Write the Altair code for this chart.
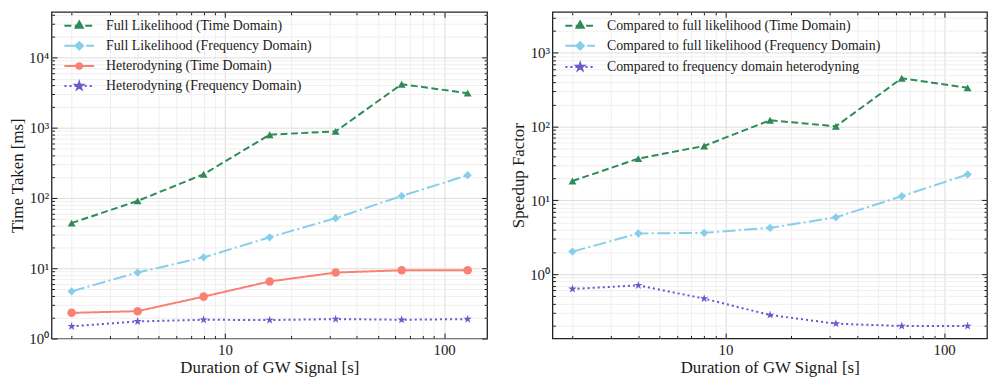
import math
import altair as alt
import pandas as pd

# ---------------- data ----------------
durations = [2, 4, 8, 16, 32, 64, 128]

left_names = [
    "Full Likelihood (Time Domain)",
    "Full Likelihood (Frequency Domain)",
    "Heterodyning (Time Domain)",
    "Heterodyning (Frequency Domain)",
]
full_td = [44, 91, 218, 797, 888, 4170, 3110]
full_fd = [4.69, 8.7, 14.3, 27.6, 51.7, 107, 211]
het_td = [2.32, 2.45, 3.95, 6.49, 8.69, 9.37, 9.37]
het_fd = [1.49, 1.75, 1.85, 1.83, 1.89, 1.85, 1.89]

right_names = [
    "Compared to full likelihood (Time Domain)",
    "Compared to full likelihood (Frequency Domain)",
    "Compared to frequency domain heterodyning",
]
speed_td = [18.3, 36.9, 54.7, 122, 101, 453, 336]
speed_fd = [2.02, 3.56, 3.63, 4.24, 5.89, 11.4, 22.5]
speed_het = [0.629, 0.705, 0.466, 0.279, 0.213, 0.198, 0.198]

x_title = "Duration of GW Signal [s]"
left_y_title = "Time Taken [ms]"
right_y_title = "Speedup Factor"

# ---------------- styles ----------------
FONT = "Liberation Serif"
TXT = "#1a1a1a"
GREEN, BLUE, RED, PURPLE = "#2e8b57", "#87ceeb", "#fa8072", "#6a5acd"
DASHED = [7.0, 3.5]
DASHDOT = [13.3, 3.3, 2.1, 3.3]
SOLID = []
DOTTED = [2.1, 3.0]

W_L, W_R, H = 440, 439, 330
X_DOMAIN = [1.62, 157]
Y_DOMAIN_L = [1, 44700]
Y_DOMAIN_R = [0.134, 3600]


def majors(lo, hi):
    return [10.0 ** e for e in range(-3, 6) if lo <= 10.0 ** e <= hi]


def minors(lo, hi):
    out = []
    for e in range(-3, 6):
        for m in range(2, 10):
            v = float(f"{m}e{e}")
            if lo <= v <= hi:
                out.append(v)
    return out


def poly(pts):
    return "M" + "L".join(f"{x:.3f},{y:.3f}" for x, y in pts) + "Z"


def marker_path(kind, r):
    if kind == "triangle":
        return poly([(0, -1.155 * r), (-r, 0.577 * r), (r, 0.577 * r)])
    if kind == "diamond":
        return poly([(-r, 0), (0, -r), (r, 0), (0, r)])
    if kind == "circle":
        return (f"M{r:.3f},0A{r:.3f},{r:.3f} 0 1,1 {-r:.3f},0"
                f"A{r:.3f},{r:.3f} 0 1,1 {r:.3f},0Z")
    if kind == "star":
        pts = []
        for k in range(10):
            rr = r if k % 2 == 0 else r * 0.382
            a = math.radians(-90 + 36 * k)
            pts.append((rr * math.cos(a), rr * math.sin(a)))
        return poly(pts)
    raise ValueError(kind)


# legend symbols: a short styled line with the marker in its middle
LEG_NOM = 6.0      # px per path unit (symbol size = (2*LEG_NOM)^2)
LEG_HALF = 15.0    # half length of legend line (px)


def legend_path(pattern, kind, r_px):
    segs = []
    if not pattern:
        segs.append((-LEG_HALF, LEG_HALF))
    else:
        x, i = -LEG_HALF, 0
        while x < LEG_HALF:
            on = pattern[i % len(pattern)]
            off = pattern[(i + 1) % len(pattern)]
            segs.append((x, min(x + on, LEG_HALF)))
            x += on + off
            i += 2
    s = "".join(f"M{a / LEG_NOM:.3f},0H{b / LEG_NOM:.3f}" for a, b in segs)
    return s + marker_path(kind, r_px / LEG_NOM)


def build_df(names, series):
    rows = []
    for name, vals in zip(names, series):
        for d, v in zip(durations, vals):
            rows.append({"duration": d, "value": v, "series": name})
    return pd.DataFrame(rows)


def panel(names, series, colors, dashes, kinds, data_sizes, leg_r,
          y_domain, y_title, width, leg_x, leg_y):
    df = build_df(names, series)
    xs = alt.Scale(type="log", domain=X_DOMAIN, nice=False)
    ys = alt.Scale(type="log", domain=y_domain, nice=False)
    xmaj, xmin = majors(*X_DOMAIN), minors(*X_DOMAIN)
    ymaj, ymin = majors(*y_domain), minors(*y_domain)

    def ax(**kw):
        base = dict(labels=False, ticks=False, domain=False, grid=False,
                    title=None, minExtent=0, maxExtent=0)
        base.update(kw)
        return alt.Axis(**base)

    def tick_ax(orient, offset, values, size):
        return ax(orient=orient, offset=offset, values=values, ticks=True,
                  tickSize=size, tickColor=TXT, tickWidth=1)

    base = alt.Chart(df)
    hidden = base.mark_point(opacity=0).transform_filter("false")

    layers = []
    # major grid + labelled axes
    layers.append(hidden.encode(
        x=alt.X("duration:Q", scale=xs, axis=alt.Axis(
            orient="bottom", values=xmaj, format="d", ticks=False, domain=False,
            grid=True, gridColor="#dcdcdc", gridWidth=1, title=x_title,
            labelPadding=4, titlePadding=2, labelFlush=False,
            labelFont=FONT, titleFont=FONT, labelColor=TXT, titleColor=TXT,
            labelFontSize=15, titleFontSize=17, titleFontWeight="normal")),
        y=alt.Y("value:Q", scale=ys, axis=alt.Axis(
            orient="left", values=ymaj, ticks=False, domain=False,
            labelExpr="'10' + ['\u207b\u00b9','\u2070','\u00b9','\u00b2','\u00b3','\u2074'][round(log(datum.value)/LN10) + 1]",
            grid=True, gridColor="#dcdcdc", gridWidth=1, title=y_title,
            labelPadding=3, titlePadding=1, labelFlush=False,
            minExtent=24, maxExtent=24,
            labelFont=FONT, titleFont=FONT, labelColor=TXT, titleColor=TXT,
            labelFontSize=15, titleFontSize=17, titleFontWeight="normal")),
    ))
    # minor grid
    layers.append(hidden.encode(
        x=alt.X("duration:Q", scale=xs, axis=ax(orient="bottom", values=xmin,
                grid=True, gridColor="#efefef", gridWidth=1)),
        y=alt.Y("value:Q", scale=ys, axis=ax(orient="left", values=ymin,
                grid=True, gridColor="#efefef", gridWidth=1)),
    ))
    # inward ticks on the four sides
    for vals, yvals, size in ((xmaj, ymaj, 5.5), (xmin, ymin, 3)):
        layers.append(hidden.encode(
            x=alt.X("duration:Q", scale=xs, axis=tick_ax("top", -H, vals, size)),
            y=alt.Y("value:Q", scale=ys, axis=tick_ax("right", -width, yvals, size)),
        ))
        layers.append(hidden.encode(
            x=alt.X("duration:Q", scale=xs, axis=tick_ax("bottom", -H, vals, size)),
            y=alt.Y("value:Q", scale=ys, axis=tick_ax("left", -width, yvals, size)),
        ))
    # data lines
    layers.append(base.mark_line(strokeWidth=2).encode(
        x=alt.X("duration:Q", scale=xs, axis=None),
        y=alt.Y("value:Q", scale=ys, axis=None),
        color=alt.Color("series:N", scale=alt.Scale(domain=names, range=colors), legend=None),
        strokeDash=alt.StrokeDash("series:N", scale=alt.Scale(
            domain=names, range=[d if d else [1, 0] for d in dashes]), legend=None),
    ))
    # data markers
    shapes = []
    for k in kinds:
        shapes.append({"triangle": "triangle-up", "diamond": "diamond",
                       "circle": "circle"}.get(k, marker_path("star", 1)))
    layers.append(base.mark_point(filled=True, opacity=1).encode(
        x=alt.X("duration:Q", scale=xs, axis=None),
        y=alt.Y("value:Q", scale=ys, axis=None),
        color=alt.Color("series:N", scale=alt.Scale(domain=names, range=colors), legend=None),
        shape=alt.Shape("series:N", scale=alt.Scale(domain=names, range=shapes), legend=None),
        size=alt.Size("series:N", scale=alt.Scale(domain=names, range=data_sizes), legend=None),
    ))
    # legend (drawn by Vega-Lite from scales; no marks)
    leg = dict(title=None, orient="none", legendX=leg_x, legendY=leg_y,
               symbolSize=(2 * LEG_NOM) ** 2, symbolStrokeWidth=2,
               labelOffset=20, labelFontSize=14, labelFont=FONT,
               labelColor=TXT, labelLimit=0, rowPadding=5.3, padding=0)
    paths = [legend_path(d, k, r) for d, k, r in zip(dashes, kinds, leg_r)]
    layers.append(base.mark_point(filled=True, opacity=1, size=(2 * LEG_NOM) ** 2)
                  .transform_filter("false").encode(
        x=alt.X("duration:Q", scale=xs, axis=None),
        y=alt.Y("value:Q", scale=ys, axis=None),
        color=alt.Color("series:N", scale=alt.Scale(domain=names, range=colors),
                        legend=alt.Legend(**leg)),
        stroke=alt.Stroke("series:N", scale=alt.Scale(domain=names, range=colors),
                          legend=alt.Legend(**leg)),
        shape=alt.Shape("series:N", scale=alt.Scale(domain=names, range=paths),
                        legend=alt.Legend(**leg)),
    ))

    return alt.layer(*layers).resolve_axis(
        x="independent", y="independent"
    ).resolve_scale(
        color="independent", stroke="independent", shape="independent",
        size="independent", strokeDash="independent"
    ).properties(width=width, height=H)


left = panel(left_names, [full_td, full_fd, het_td, het_fd],
             [GREEN, BLUE, RED, PURPLE], [DASHED, DASHDOT, SOLID, DOTTED],
             ["triangle", "diamond", "circle", "star"], [64, 80, 40, 70],
             [3.6, 3.8, 2.8, 3.8], Y_DOMAIN_L, left_y_title, W_L, 21, 7)

right = panel(right_names, [speed_td, speed_fd, speed_het],
              [GREEN, BLUE, PURPLE], [DASHED, DASHDOT, DOTTED],
              ["triangle", "diamond", "star"], [64, 80, 70],
              [3.6, 3.8, 3.8], Y_DOMAIN_R, right_y_title, W_R, 21, 7)

chart = alt.hconcat(left, right, spacing=20).properties(
    padding={"left": 0, "top": 0, "right": 0, "bottom": 0},
    background="white",
).configure_axis(
    labelFont=FONT, titleFont=FONT, labelColor=TXT, titleColor=TXT,
    labelFontSize=15, titleFontSize=17, titleFontWeight="normal",
).configure_view(
    stroke="#222222", strokeWidth=1.3
)

chart.save("out.html", embed_options={"renderer": "svg", "actions": False})
